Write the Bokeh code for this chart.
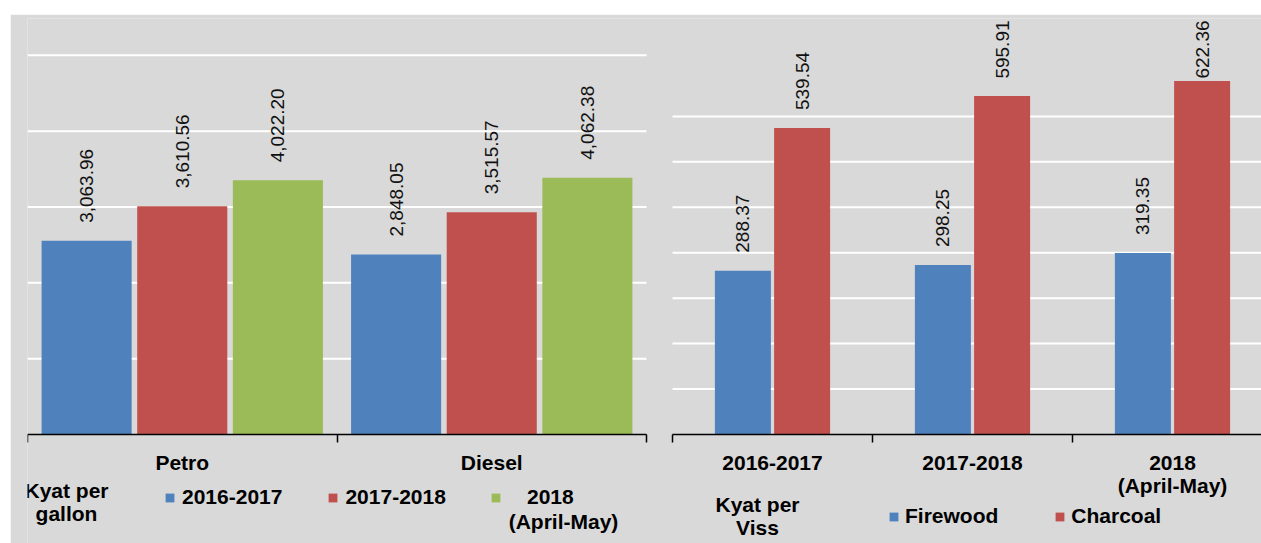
import math
from bokeh.plotting import figure
from bokeh.models import (Range1d, LinearAxis, FixedTicker, Legend, LegendItem,
                          Label, ColumnDataSource, Spacer)
from bokeh.layouts import row, column
from bokeh.embed import file_html
from bokeh.resources import INLINE
from bokeh.core.properties import value

# ---------------- data ----------------
fuel_categories = ["Petro", "Diesel"]
fuel_series = ["2016-2017", "2017-2018", "2018\n(April-May)"]
fuel_2016_2017 = [3063.96, 2848.05]
fuel_2017_2018 = [3610.56, 3515.57]
fuel_2018_apr_may = [4022.20, 4062.38]
fuel_unit = "Kyat per\ngallon"
fuel_grid_ticks = [1200, 2400, 3600, 4800, 6000]

wood_categories = ["2016-2017", "2017-2018", "2018\n(April-May)"]
wood_series = ["Firewood", "Charcoal"]
firewood = [288.37, 298.25, 319.35]
charcoal = [539.54, 595.91, 622.36]
wood_unit = "Kyat per\nViss"
wood_grid_ticks = [80, 160, 240, 320, 400, 480, 560]

# ---------------- style / geometry ----------------
BG = "#d9d9d9"
FONT = "Liberation Sans"
BLUE, RED, GREEN = "#4f81bd", "#c0504d", "#9bbb59"
FIG_W, FIG_H = 1251, 529
LEFT_B = 17
FRAME_W = FIG_W - LEFT_B
TOP = 4
ABOVE_ZERO = 416
BELOW_ZERO = FIG_H - TOP - ABOVE_ZERO
CW_L = 309.5           # px per fuel category
CW_R = 200.0           # px per wood category
R_START = 645          # px from frame left where wood panel starts
K_L = 0.0632           # px per kyat (fuel)
K_R = 0.568            # px per kyat (wood)
LABEL_FS = 19
TEXT_FS = "21px"

p = figure(width=FIG_W, height=FIG_H,
           x_range=Range1d(0, FRAME_W / CW_L),
           y_range=Range1d(-BELOW_ZERO / K_L, ABOVE_ZERO / K_L),
           x_axis_location=None, y_axis_location=None, toolbar_location=None,
           output_backend="svg", min_border_top=TOP, min_border_bottom=0,
           min_border_left=LEFT_B, min_border_right=0,
           background_fill_color=BG, border_fill_color=BG, outline_line_color=None)
p.center = []
p.extra_x_ranges = {"wood": Range1d(-R_START / CW_R, (FRAME_W - R_START) / CW_R)}
p.extra_y_ranges = {"wood": Range1d(-BELOW_ZERO / K_R, ABOVE_ZERO / K_R)}

RN = {"fuel": dict(), "wood": dict(x_range_name="wood", y_range_name="wood")}


def add_grid(ticks, x_end, panel):
    p.segment(x0=[0] * len(ticks), x1=[x_end] * len(ticks), y0=ticks, y1=ticks,
              line_color="white", line_width=2, level="underlay", **RN[panel])


def add_xaxis(cats, panel):
    n = len(cats)
    centers = [i + 0.5 for i in range(n)]
    ax = LinearAxis(ticker=FixedTicker(ticks=centers, minor_ticks=list(range(n + 1))),
                    fixed_location=0, bounds=(0, n),
                    major_label_overrides={c: lab for c, lab in zip(centers, cats)},
                    axis_line_color="black", axis_line_width=1.5,
                    major_tick_line_color=None, major_tick_out=8, major_tick_in=0,
                    minor_tick_line_color="black", minor_tick_line_width=1.5,
                    minor_tick_out=8, minor_tick_in=0,
                    major_label_standoff=8,
                    major_label_text_font=FONT, major_label_text_font_size=TEXT_FS,
                    major_label_text_font_style="bold", major_label_text_color="black",
                    major_label_text_line_height=1.0, **RN[panel])
    p.add_layout(ax, "below")


def label_text(v):
    return f"{v:,.2f}"


def add_bars(vals, offset, width, color, k, panel):
    xs = [i + 0.5 + offset for i in range(len(vals))]
    texts = [label_text(v) for v in vals]
    offs = []
    for v, t in zip(vals, texts):
        length = sum(0.278 if c in ".," else 0.556 for c in t) * LABEL_FS
        room = ABOVE_ZERO - v * k - length - 2
        offs.append(-min(18, room))
    src = ColumnDataSource(dict(x=xs, top=vals, text=texts, yoff=offs))
    r = p.vbar(x="x", top="top", bottom=0, width=width, source=src,
               fill_color=color, line_color=None, **RN[panel])
    p.text(x="x", y="top", text="text", y_offset="yoff", source=src,
           angle=math.pi / 2, text_align="left", text_baseline="middle",
           text_font=value(FONT), text_font_size=f"{LABEL_FS}px", text_color="#111111",
           **RN[panel])
    return r


def make_legend(items, loc, spacing, standoff):
    return Legend(items=items, location=loc, orientation="horizontal",
                  spacing=spacing, label_standoff=standoff,
                  glyph_width=11, glyph_height=11, label_height=20,
                  label_text_font=FONT, label_text_font_size=TEXT_FS,
                  label_text_font_style="bold", label_text_color="black",
                  border_line_color=None, background_fill_alpha=0,
                  padding=0, margin=0)


def unit_label(text, x, y):
    return Label(x=x, y=y, x_units="screen", y_units="screen", text=text,
                 text_align="center", text_baseline="top", text_font=FONT,
                 text_font_size=TEXT_FS, text_font_style="bold", text_color="black",
                 text_line_height=1.0)


# ---------------- left panel: fuel ----------------
add_grid(fuel_grid_ticks, len(fuel_categories), "fuel")
add_xaxis(fuel_categories, "fuel")
r1 = add_bars(fuel_2016_2017, -0.309, 0.291, BLUE, K_L, "fuel")
r2 = add_bars(fuel_2017_2018, 0.0, 0.291, RED, K_L, "fuel")
r3 = add_bars(fuel_2018_apr_may, 0.309, 0.291, GREEN, K_L, "fuel")

leg_a = make_legend([LegendItem(label=fuel_series[0], renderers=[r1]),
                     LegendItem(label=fuel_series[1], renderers=[r2])],
                    (137, 34), 45, 7)
third_top, third_bottom = fuel_series[2].split("\n")
leg_b = make_legend([LegendItem(label=third_top, renderers=[r3])], (463, 34), 0, 26)
p.add_layout(leg_a, "center")
p.add_layout(leg_b, "center")
p.add_layout(unit_label(third_bottom, 536, 34))
p.add_layout(unit_label(fuel_unit, 39, 65))

# ---------------- right panel: wood ----------------
add_grid(wood_grid_ticks, (FRAME_W - R_START) / CW_R, "wood")
add_xaxis(wood_categories, "wood")
w1 = add_bars(firewood, -0.148, 0.28, BLUE, K_R, "wood")
w2 = add_bars(charcoal, 0.148, 0.28, RED, K_R, "wood")
leg_c = make_legend([LegendItem(label=wood_series[0], renderers=[w1]),
                     LegendItem(label=wood_series[1], renderers=[w2])],
                    (R_START + 216, 15), 56, 6)
p.add_layout(leg_c, "center")
p.add_layout(unit_label(wood_unit, R_START + 85, 51))

layout = column(Spacer(width=10, height=14), row(Spacer(width=10, height=FIG_H), p))

open("out.html", "w").write(file_html(layout, INLINE))
